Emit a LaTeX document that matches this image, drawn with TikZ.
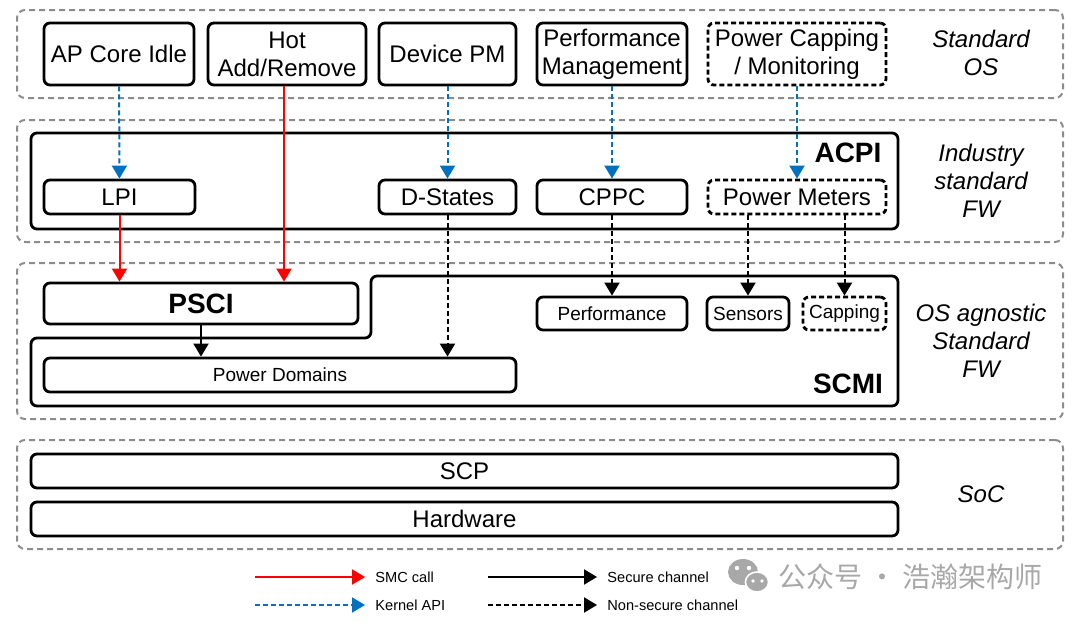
\documentclass[tikz,border=0pt]{standalone}
\usepackage{fontspec}
\setmainfont{Liberation Sans}
\newfontfamily\cjkfont{Noto Sans CJK SC}
\usetikzlibrary{arrows.meta}
\definecolor{apiblue}{HTML}{0070C0}
\definecolor{layergray}{HTML}{8C8C8C}
\definecolor{markgray}{HTML}{A8A8A8}

\begin{document}
\begin{tikzpicture}[x=0.5pt, y=-0.5pt, >={Triangle[length=6.5pt,width=7.5pt]},
	layer/.style={draw=layergray, line width=1pt, dash pattern=on 3pt off 2pt, rounded corners=4pt, minimum width=523pt, inner sep=0pt},
	box/.style={draw, line width=1.4pt, rounded corners=3pt, inner sep=1pt, align=center, font=\fontsize{12}{14}\selectfont},
	dbox/.style={box, dash pattern=on 2.5pt off 1.5pt},
	small/.style={font=\fontsize{9.5}{11}\selectfont},
	side/.style={align=center, font=\fontsize{12}{14}\selectfont\itshape},
	title/.style={font=\fontsize{14}{16}\selectfont\bfseries},
	smc/.style={->, red, line width=1pt},
	kapi/.style={->, apiblue, line width=1pt, dash pattern=on 2.5pt off 1.5pt},
	sec/.style={->, black, line width=1pt},
	nsec/.style={->, black, line width=1pt, dash pattern=on 2.5pt off 1.5pt},
	legend/.style={anchor=west, inner sep=5pt, font=\fontsize{7.3}{9}\selectfont}]
	
	\useasboundingbox (0,0) rectangle (1080,622);
	
	% Layers
	\node[layer, minimum height=44pt] (oslayer) at (540,54) {};
	\node[layer, minimum height=61pt] (fwlayer) at (540,181) {};
	\node[layer, minimum height=78pt] (aglayer) at (540,341) {};
	\node[layer, minimum height=54.5pt] (soclayer) at (540,494.5) {};
	
	\node[side] (oslbl) at (981,53) {Standard\\OS};
	\node[side] (fwlbl) at (981,181) {Industry\\standard\\FW};
	\node[side] (aglbl) at (981,341) {OS agnostic\\Standard\\FW};
	\node[side] (soclbl) at (981,494) {SoC};
	
	% Standard OS
	\node[box, minimum width=75pt, minimum height=31pt] (apidle) at (119,54) {AP Core Idle};
	\node[box, minimum width=79pt, minimum height=31pt] (hot) at (287,54) {Hot\\Add/Remove};
	\node[box, minimum width=68.5pt, minimum height=31pt] (devpm) at (447.5,54) {Device PM};
	\node[box, minimum width=75pt, minimum height=31pt] (perfmgmt) at (612,54) {Performance\\Management};
	\node[dbox, minimum width=89pt, minimum height=31pt] (pcap) at (797,54) {Power Capping\\/ Monitoring};
	
	% ACPI
	\node[box, minimum width=433.5pt, minimum height=48pt] (acpi) at (464.5,181) {};
	\node[title] (acpilbl) at (848,153) {ACPI};
	\node[box, minimum width=75.5pt, minimum height=17pt] (lpi) at (119.5,197) {LPI};
	\node[box, minimum width=68.5pt, minimum height=17pt] (dstates) at (447.5,197) {D-States};
	\node[box, minimum width=75pt, minimum height=17pt] (cppc) at (612,197) {CPPC};
	\node[dbox, minimum width=89pt, minimum height=17pt] (pmeters) at (797,197) {Power Meters};
	
	% SCMI
	\draw[line width=1.4pt, rounded corners=3pt] (31,338) -- (371,338) -- (371,276) -- (898,276) -- (898,406) -- (31,406) -- cycle;
	\node[title] (scmilbl) at (848,384) {SCMI};
	\node[box, title, minimum width=157pt, minimum height=20.5pt] (psci) at (201,303.5) {PSCI};
	\node[box, small, minimum width=236pt, minimum height=17pt] (pdom) at (280,375) {Power Domains};
	\node[box, small, minimum width=75pt, minimum height=16.5pt] (perf) at (612,313.5) {Performance};
	\node[box, small, minimum width=41pt, minimum height=16.5pt] (sensors) at (748,313.5) {Sensors};
	\node[dbox, small, minimum width=41.5pt, minimum height=16.5pt] (capping) at (844.5,313.5) {Capping};
	
	% SoC
	\node[box, minimum width=433.5pt, minimum height=17pt] (scp) at (464.5,471) {SCP};
	\node[box, minimum width=433.5pt, minimum height=17pt] (hw) at (464.5,519) {Hardware};
	
	% Connectors
	\draw[kapi] (apidle) -- (lpi);
	\draw[kapi] (devpm) -- (dstates);
	\draw[kapi] (perfmgmt) -- (cppc);
	\draw[kapi] (pcap) -- (pmeters);
	\draw[smc] ([xshift=-1.5pt]hot.south) -- ([xshift=-1.5pt]hot.south |- psci.north);
	\draw[smc] (lpi.south) -- (lpi.south |- psci.north);
	\draw[nsec] (dstates.south) -- (dstates.south |- pdom.north);
	\draw[nsec] (cppc) -- (perf);
	\draw[nsec] (sensors.north |- pmeters.south) -- (sensors.north);
	\draw[nsec] (capping.north |- pmeters.south) -- (capping.north);
	\draw[sec] (psci.south) -- (psci.south |- pdom.north);
	
	% Legend
	\node[legend] (lsmc) at (365,577) {SMC call};
	\node[legend] (lkapi) at (365,605) {Kernel API};
	\node[legend] (lsec) at (597,577) {Secure channel};
	\node[legend] (lnsec) at (597,605) {Non-secure channel};
	\coordinate (lsmc0) at (255,577);
	\coordinate (lkapi0) at (255,605);
	\coordinate (lsec0) at (488,577);
	\coordinate (lnsec0) at (488,605);
	\draw[smc] (lsmc0) -- (lsmc.west);
	\draw[kapi] (lkapi0) -- (lkapi.west);
	\draw[sec] (lsec0) -- (lsec.west);
	\draw[nsec] (lnsec0) -- (lnsec.west);
	
	% Watermark
	\fill[markgray] (743,572) ellipse [x radius=7.5pt, y radius=6.5pt];
	\filldraw[markgray, draw=white, line width=0.8pt] (757,582) ellipse [x radius=5.8pt, y radius=5pt];
	\fill[white] (737,568) circle (1.1pt) (749,568) circle (1.1pt) (753,581) circle (0.9pt) (762,581) circle (0.9pt);
	\node[anchor=west, inner sep=0pt, text=markgray, font=\cjkfont\fontsize{14}{16}\selectfont] (wmark) at (778,577) {公众号 · 浩瀚架构师};
	
\end{tikzpicture}
\end{document}
